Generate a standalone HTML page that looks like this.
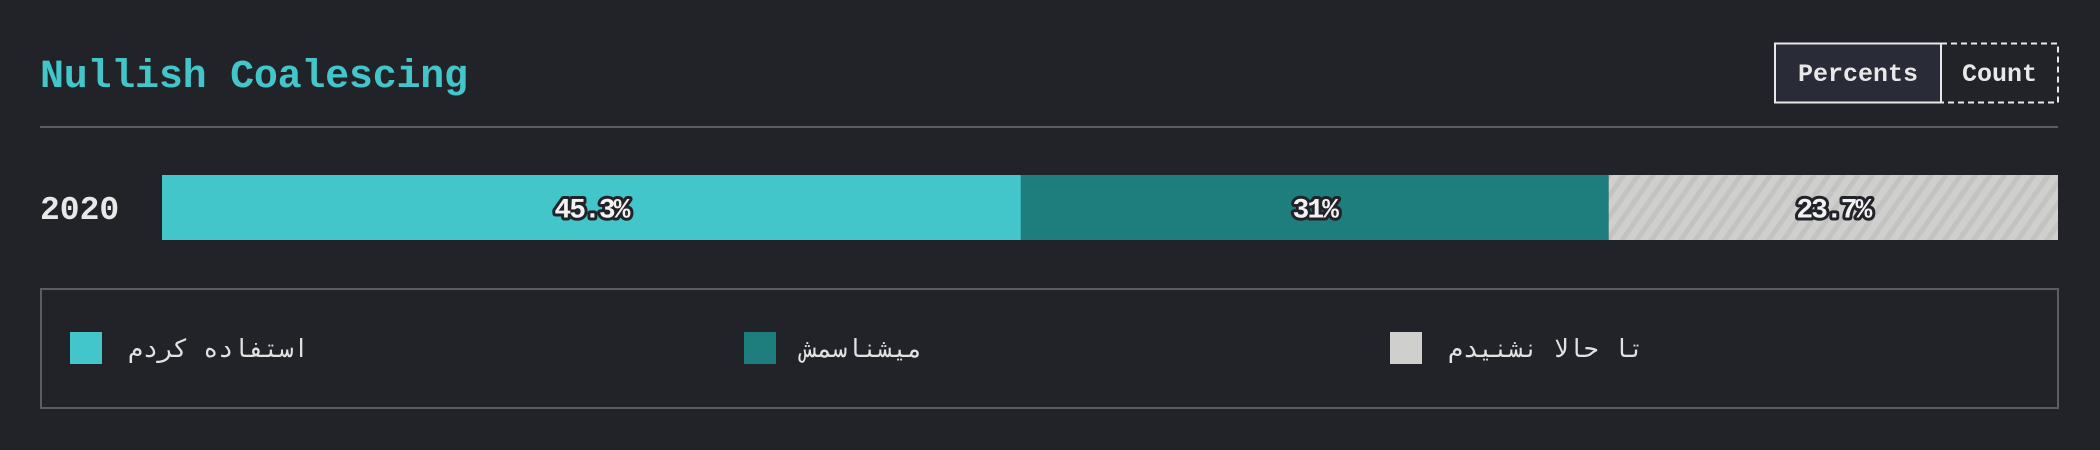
<!DOCTYPE html>
<html><head><meta charset="utf-8">
<style>
html,body{margin:0;padding:0;background:#222329;width:2100px;height:450px;overflow:hidden}
svg{display:block}
text{font-family:"Liberation Mono","DejaVu Sans Mono",monospace}
.leg{font-family:"DejaVu Sans Mono","DejaVu Sans",sans-serif;font-size:25px;fill:#e2e2e2}
</style></head>
<body>
<svg id="chart" width="2100" height="450" viewBox="0 0 2100 450" xmlns="http://www.w3.org/2000/svg">
<defs>
<pattern id="stripes" patternUnits="userSpaceOnUse" width="12" height="12" patternTransform="rotate(35)">
<rect width="12" height="12" fill="#cfcfcd"/>
<rect width="5" height="12" fill="#c3c3c1"/>
</pattern>
</defs>
<text x="40" y="87" font-size="40" font-weight="bold" fill="#42c6c9" textLength="428">Nullish Coalescing</text>
<g>
<rect x="1775" y="43.5" width="166" height="59" fill="#292c36" stroke="#e8e8e8" stroke-width="2"/>
<text x="1858" y="81" font-size="25" font-weight="bold" fill="#e8e8e8" text-anchor="middle">Percents</text>
<rect x="1941" y="43.5" width="117" height="59" fill="none" stroke="#e8e8e8" stroke-width="2" stroke-dasharray="6,4"/>
<text x="1999.5" y="81" font-size="25" font-weight="bold" fill="#e8e8e8" text-anchor="middle">Count</text>
</g>
<rect x="40" y="126" width="2018" height="2" fill="#5b5d63"/>
<text x="40" y="219" font-size="33" font-weight="bold" fill="#e8e8e8">2020</text>
<g id="bars"></g>
<rect x="41" y="289" width="2017" height="119" fill="none" stroke="#5b5d63" stroke-width="2"/>
<g id="legend"></g>
</svg>
<script>
const categories = ["استفاده کردم", "میشناسمش", "تا حالا نشنیدم"];
const values = [45.3, 31, 23.7];
const labels = ["45.3%", "31%", "23.7%"];
const fills = ["#42c6c9", "#1e7d7d", "url(#stripes)"];
const swatch = ["#42c6c9", "#1e7d7d", "#cfcfcd"];
const NS = "http://www.w3.org/2000/svg";
const x0 = 162, x1 = 2058, yTop = 175, barH = 65;
const total = values.reduce((a, b) => a + b, 0);
function xScale(v) { return x0 + (v / total) * (x1 - x0); }
const bars = document.getElementById("bars");
let acc = 0;
values.forEach((v, i) => {
  const xa = xScale(acc), xb = xScale(acc + v);
  const r = document.createElementNS(NS, "rect");
  
  
  r.setAttribute("x", xa); r.setAttribute("y", yTop);
  r.setAttribute("width", xb - xa); r.setAttribute("height", barH);
  r.setAttribute("fill", fills[i]);
  bars.appendChild(r);
  const t = document.createElementNS(NS, "text");
  
  
  t.setAttribute("x", (xa + xb) / 2); t.setAttribute("y", yTop + barH / 2 + 10);
  t.setAttribute("text-anchor", "middle");
  t.setAttribute("font-size", "28"); t.setAttribute("font-weight", "bold");
  t.setAttribute("fill", "#f2f2f2"); t.setAttribute("stroke", "#222329");
  t.setAttribute("stroke-width", "6"); t.setAttribute("paint-order", "stroke");
  t.setAttribute("stroke-linejoin", "round");
  t.setAttribute("letter-spacing", "-2");
  t.textContent = labels[i];
  bars.appendChild(t);
  acc += v;
});
const legend = document.getElementById("legend");
const legX = [70, 744, 1390];
categories.forEach((c, i) => {
  const g = document.createElementNS(NS, "g");
  
  
  const s = document.createElementNS(NS, "rect");
  
  
  s.setAttribute("x", legX[i]); s.setAttribute("y", 332);
  s.setAttribute("width", 32); s.setAttribute("height", 32);
  s.setAttribute("fill", swatch[i]);
  g.appendChild(s);
  const t = document.createElementNS(NS, "text");
  
  
  t.setAttribute("class", "leg");
  t.setAttribute("x", legX[i] + 58); t.setAttribute("y", 357);
  t.setAttribute("direction", "rtl");
  t.setAttribute("text-anchor", "end");
  t.textContent = c;
  g.appendChild(t);
  legend.appendChild(g);
});
</script>
</body></html>
